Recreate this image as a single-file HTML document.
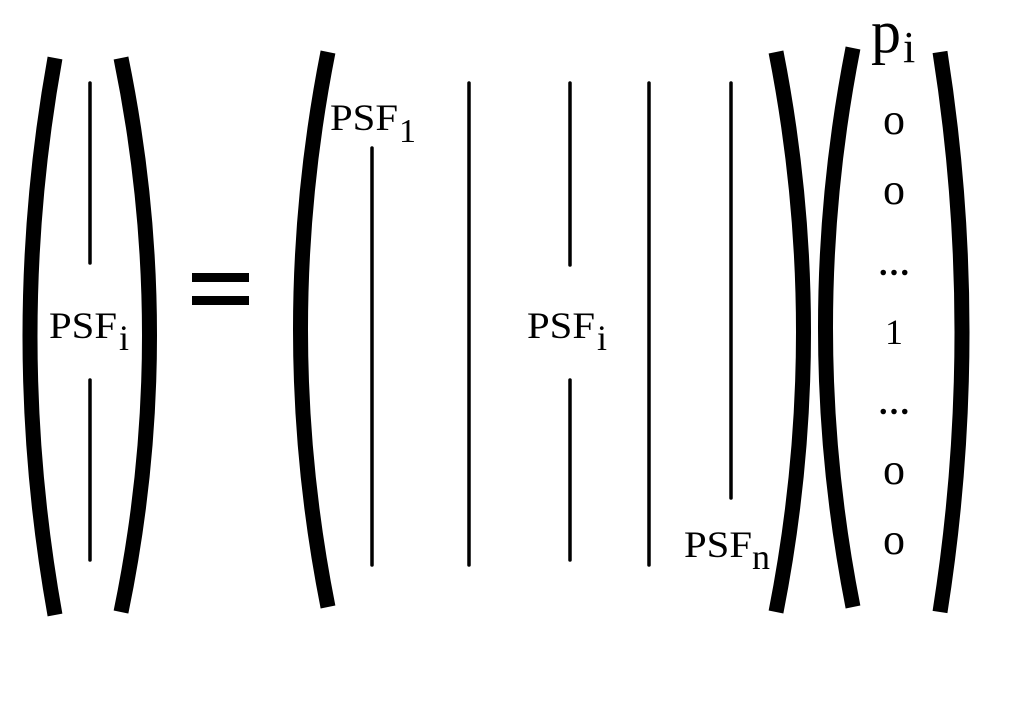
<!DOCTYPE html>
<html><head><meta charset="utf-8"><style>
html,body{margin:0;padding:0;background:#fff;}
svg{display:block;}
text{font-family:"Liberation Serif",serif;fill:#000;}
</style></head><body>
<svg width="1024" height="728" viewBox="0 0 1024 728">
<g fill="none" stroke="#000" stroke-width="15">
<path d="M55 58 Q5 336 55 615"/>
<path d="M121 58 Q178 336 121 612"/>
<path d="M328 52 Q273 330 328 607"/>
<path d="M776 52 Q831 332 776 612"/>
<path d="M853 48 Q798 328 853 607"/>
<path d="M940 52 Q984 332 940 612"/>
</g>
<g stroke="#000" stroke-width="3.5" stroke-linecap="round">
<line x1="90" y1="83" x2="90" y2="263"/>
<line x1="90" y1="380" x2="90" y2="560"/>
<line x1="372" y1="148" x2="372" y2="565"/>
<line x1="469" y1="83" x2="469" y2="565"/>
<line x1="570" y1="83" x2="570" y2="265"/>
<line x1="570" y1="380" x2="570" y2="560"/>
<line x1="649" y1="83" x2="649" y2="565"/>
<line x1="731" y1="83" x2="731" y2="498"/>
</g>
<rect x="192" y="273" width="57" height="9" fill="#000"/>
<rect x="192" y="296" width="57" height="9" fill="#000"/>
<text x="49" y="338" font-size="37" textLength="68" lengthAdjust="spacingAndGlyphs">PSF</text>
<text x="119" y="350" font-size="36">i</text>
<text x="330" y="130" font-size="37" textLength="68" lengthAdjust="spacingAndGlyphs">PSF</text>
<text x="399" y="142" font-size="34">1</text>
<text x="527" y="338" font-size="37" textLength="68" lengthAdjust="spacingAndGlyphs">PSF</text>
<text x="597" y="350" font-size="36">i</text>
<text x="684" y="557" font-size="37" textLength="68" lengthAdjust="spacingAndGlyphs">PSF</text>
<text x="752" y="569" font-size="36">n</text>
<text x="871" y="52" font-size="60">p</text>
<text x="903" y="62" font-size="44">i</text>
<g font-size="44" text-anchor="middle">
<text x="894" y="134">o</text>
<text x="894" y="204">o</text>
<text x="894" y="275" font-size="34" font-weight="bold" textLength="30" lengthAdjust="spacing">...</text>
<text x="894" y="344" font-size="36">1</text>
<text x="894" y="414" font-size="34" font-weight="bold" textLength="30" lengthAdjust="spacing">...</text>
<text x="894" y="484">o</text>
<text x="894" y="554">o</text>
</g>
</svg>
</body></html>
